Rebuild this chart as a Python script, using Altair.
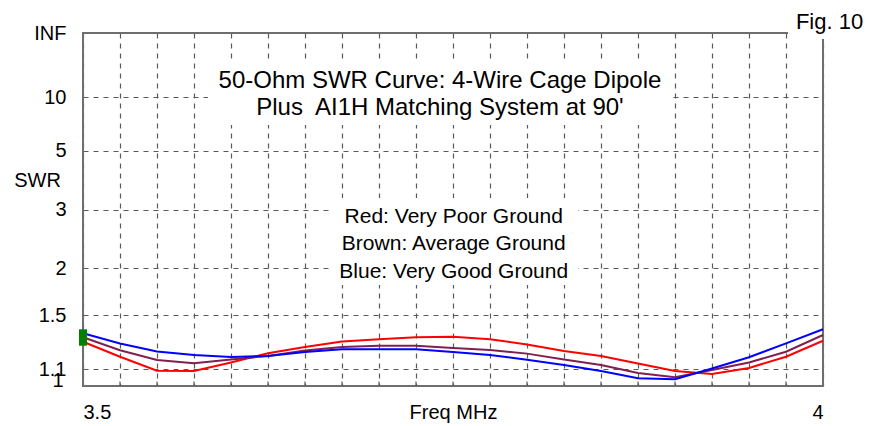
import altair as alt
import pandas as pd

# ---------------- data ----------------
freqs = [3.5, 3.525, 3.55, 3.575, 3.6, 3.625, 3.65, 3.675, 3.7, 3.725, 3.75,
         3.775, 3.8, 3.825, 3.85, 3.875, 3.9, 3.925, 3.95, 3.975, 4.0]

red_swr = [1.287, 1.181, 1.091, 1.089, 1.143, 1.204, 1.248, 1.289, 1.305, 1.320, 1.325,
           1.305, 1.267, 1.220, 1.186, 1.136, 1.089, 1.070, 1.108, 1.181, 1.294]
brown_swr = [1.320, 1.225, 1.159, 1.138, 1.162, 1.186, 1.224, 1.248, 1.258, 1.258, 1.241,
             1.227, 1.202, 1.163, 1.127, 1.076, 1.051, 1.095, 1.143, 1.215, 1.338]
blue_swr = [1.351, 1.274, 1.217, 1.193, 1.179, 1.186, 1.213, 1.232, 1.232, 1.232, 1.213,
            1.193, 1.160, 1.127, 1.089, 1.045, 1.039, 1.104, 1.177, 1.275, 1.383]

series_names = ["Very Poor Ground", "Average Ground", "Very Good Ground"]
series_colors = ["#ff0000", "#802050", "#0000ff"]

swr_ticks = [1, 1.1, 1.5, 2, 3, 5, 10]
swr_tick_labels = ["1", "1.1", "1.5", "2", "3", "5", "10"]
top_label = "INF"
x_tick_labels = ["3.5", "4"]

note_texts = ["50-Ohm SWR Curve: 4-Wire Cage Dipole",
              "Plus\u00a0 AI1H Matching System at 90'",
              "Red: Very Poor Ground",
              "Brown: Average Ground",
              "Blue: Very Good Ground",
              "Fig. 10"]
note_freq = [3.7412, 3.7412, 3.7505, 3.7505, 3.7505, 4.0044]
note_rho = [0.8442, 0.7677, 0.4618, 0.3853, 0.3059, 1.0113]
note_size = [24, 24, 21, 21, 21, 22]

box_freq = [3.5845, 3.6669, 3.9764]
box_freq2 = [3.8980, 3.8345, 4.0318]
box_rho = [0.9178, 0.5326, 1.0935]
box_rho2 = [0.7394, 0.2861, 0.9830]

FONT = "Liberation Sans"
GRID = "#5a5a5a"
FRAME = "#6e6e6e"


def to_rho(s):
    return (s - 1.0) / (s + 1.0)


y_vals = [to_rho(s) for s in swr_ticks] + [1.0]
y_labels = swr_tick_labels + [top_label]
y_expr = "".join(f"abs(datum.value-{v:.6f})<0.0005 ? '{l}' : " for v, l in zip(y_vals, y_labels)) + "''"
x_expr = (f"datum.value < 3.501 ? '{x_tick_labels[0]}' : "
          f"datum.value > 3.999 ? '{x_tick_labels[1]}' : ''")

x_enc = alt.X(
    "freq:Q",
    scale=alt.Scale(domain=[3.5, 4.0], nice=False, zero=False),
    axis=alt.Axis(values=freqs, labelExpr=x_expr, labelFlush=True, ticks=False, tickSize=0,
                  domain=False, grid=True, gridDash=[5, 5], gridColor=GRID, gridWidth=1.2,
                  labelFont=FONT, labelFontSize=20, labelColor="#000000", labelPadding=26,
                  labelBaseline="middle", labelOverlap=False,
                  title="Freq MHz", titleFont=FONT, titleFontSize=20, titleFontWeight="normal",
                  titleColor="#000000", titleY=26, titleBaseline="middle"),
)
y_enc = alt.Y(
    "rho:Q",
    scale=alt.Scale(domain=[0, 1], nice=False, zero=False),
    axis=alt.Axis(values=y_vals, labelExpr=y_expr, ticks=False, tickSize=0, domain=False,
                  grid=True, gridDash=[5, 5], gridColor=GRID, gridWidth=1.2,
                  labelFont=FONT, labelFontSize=20, labelColor="#000000", labelOverlap=False,
                  labelPadding={"condition": {"test": "datum.value < 0.001", "value": 20}, "value": 17},
                  labelOffset={"condition": {"test": "datum.value < 0.001", "value": -6}, "value": 0},
                  title="SWR", titleFont=FONT, titleFontSize=20, titleFontWeight="normal",
                  titleColor="#000000", titleAngle=0, titleX=-46, titleY=147,
                  titleAlign="center", titleBaseline="middle"),
)

curve_df = pd.DataFrame({
    "freq": freqs * 3,
    "swr": red_swr + brown_swr + blue_swr,
    "series": [n for n in series_names for _ in freqs],
})

# plot frame (drawn as a mark so the "Fig. 10" label box can cover its corner)
frame_df = pd.DataFrame({"freq": [freqs[0]], "freq2": [freqs[-1]], "rho": [0.0], "rho2": [1.0]})
frame = alt.Chart(frame_df).mark_rect(fill="white", fillOpacity=0, stroke=FRAME, strokeWidth=2,
                                      clip=False).encode(
    x=x_enc, x2="freq2:Q", y=y_enc, y2="rho2:Q")

box_df = pd.DataFrame({"freq": box_freq, "freq2": box_freq2, "rho": box_rho, "rho2": box_rho2})
boxes = alt.Chart(box_df).mark_rect(color="white", clip=False).encode(
    x=x_enc, x2="freq2:Q", y=y_enc, y2="rho2:Q")

lines = alt.Chart(curve_df).transform_calculate(
    rho="(datum.swr - 1) / (datum.swr + 1)"
).mark_line(strokeWidth=2).encode(
    x=x_enc, y=y_enc,
    color=alt.Color("series:N", scale=alt.Scale(domain=series_names, range=series_colors), legend=None),
)

marker_df = pd.DataFrame({"freq": [freqs[0]], "lo": [red_swr[0]], "hi": [blue_swr[0]]})
marker = alt.Chart(marker_df).transform_calculate(
    rho="(datum.lo - 1) / (datum.lo + 1)", rho2="(datum.hi - 1) / (datum.hi + 1)"
).mark_rule(color="#008000", strokeWidth=8, strokeCap="square").encode(
    x=x_enc, y=y_enc, y2="rho2:Q")

tick_df = pd.DataFrame({"freq": freqs[1:-1], "rho": [0.0] * (len(freqs) - 2),
                        "rho2": [0.013] * (len(freqs) - 2)})
ticks = alt.Chart(tick_df).mark_rule(color=GRID, strokeWidth=1.2).encode(
    x=x_enc, y=y_enc, y2="rho2:Q")

notes_df = pd.DataFrame({"text": note_texts, "freq": note_freq, "rho": note_rho, "fs": note_size})
texts = alt.Chart(notes_df).mark_text(font=FONT, baseline="alphabetic", align="center",
                                      color="#000000", clip=False).encode(
    x=x_enc, y=y_enc, text="text:N", size=alt.Size("fs:Q", scale=None))

chart = alt.layer(frame, boxes, lines, marker, ticks, texts).properties(
    width=740, height=353,
    padding={"left": 83, "top": 33, "right": 47, "bottom": 40},
    autosize=alt.AutoSizeParams(type="none"),
    background="white",
).configure_view(stroke=None, strokeWidth=0)

chart.save("out.html", embed_options={"renderer": "svg", "actions": False})
